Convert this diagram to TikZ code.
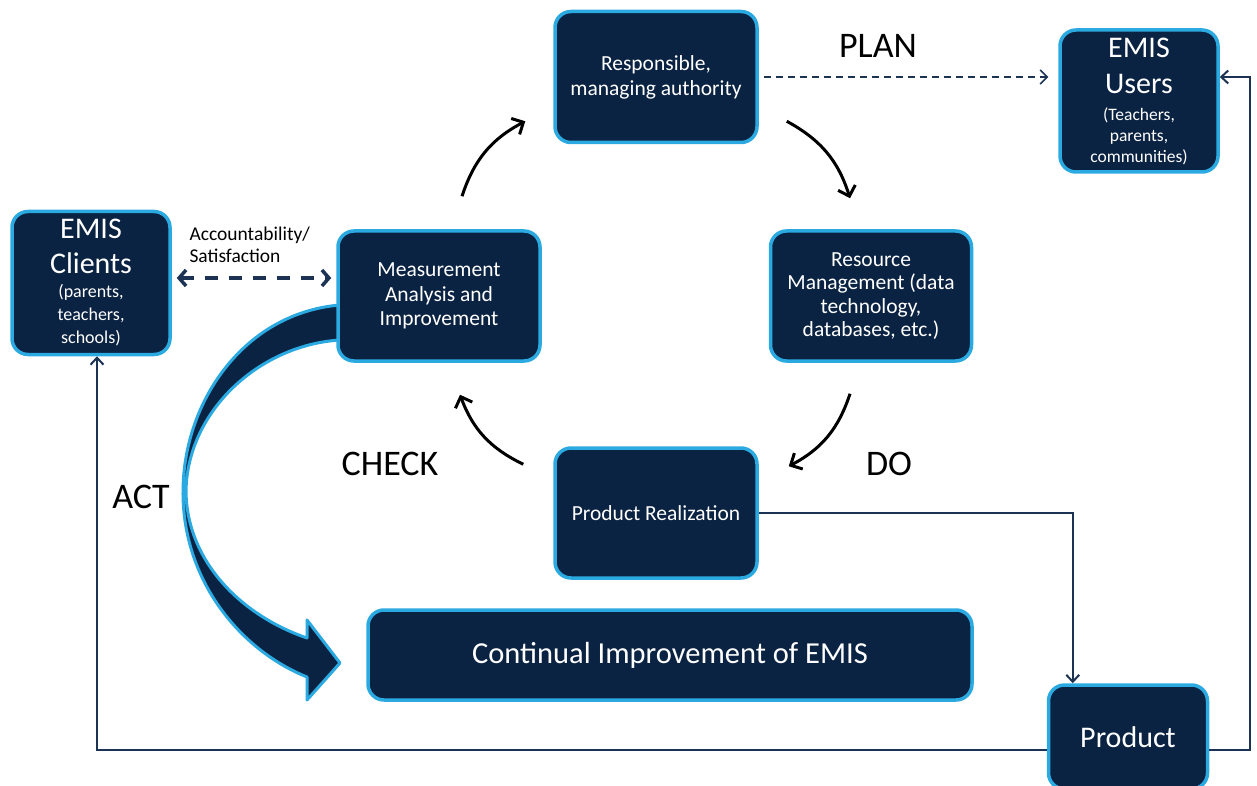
\documentclass[tikz,border=0pt]{standalone}
\usepackage{fontspec}
\setmainfont{Carlito}
\usetikzlibrary{arrows.meta}
\definecolor{boxnavy}{HTML}{0B2343}
\definecolor{boxblue}{HTML}{2BA9E1}
\definecolor{linenavy}{HTML}{1C3354}

\begin{document}
\begin{tikzpicture}[x=1pt,y=-1pt,
      box/.style={draw=boxblue, fill=boxnavy, line width=3.5pt, rounded corners=16pt, text=white, align=center, inner sep=2pt},
      boxtext/.style={font=\fontsize{21.5}{24}\selectfont},
      cyclearrow/.style={line width=3pt, -{Straight Barb[length=9pt,width=18pt]}, bend left=22},
      conn/.style={draw=linenavy, line width=2pt, -{Straight Barb[length=7pt,width=13pt]}},
      phase/.style={font=\fontsize{36}{40}\selectfont}
    ]
    \useasboundingbox (0,0) rectangle (1257,786);

    % the big ACT arrow, under the box it starts from
    \draw[draw=boxblue, fill=boxnavy, line width=3pt, line join=round]
      (340,305) .. controls (245,313) and (184,400) .. (183,490)
      .. controls (182,580) and (240,650) .. (307,677)
      -- (307,700) -- (340,663) -- (307,620) -- (307,638)
      .. controls (240,615) and (186,560) .. (186,490)
      .. controls (188,410) and (260,345) .. (340,340) -- cycle;

    \node[box, font=\fontsize{21.5}{25}\selectfont, minimum width=202, minimum height=131] (rp) at (656,77) {Responsible,\\managing authority};
    \node[box, font=\fontsize{17.5}{21}\selectfont, minimum width=158, minimum height=142] (us) at (1139,101)
      {{\fontsize{30}{30}\selectfont EMIS}\\[15pt]{\fontsize{30}{30}\selectfont Users}\\[6pt](Teachers,\\parents,\\communities)};
    \node[box, font=\fontsize{18}{23}\selectfont, minimum width=158, minimum height=143] (cl) at (91,283)
      {{\fontsize{30}{30}\selectfont EMIS}\\[12pt]{\fontsize{30}{30}\selectfont Clients}\\[1pt](parents,\\teachers,\\schools)};
    \node[box, boxtext, font=\fontsize{21.5}{24.5}\selectfont, minimum width=202, minimum height=130] (ma) at (439,296) {Measurement\\Analysis and\\Improvement};
    \node[box, boxtext, font=\fontsize{21.5}{23.3}\selectfont, minimum width=201, minimum height=130] (rm) at (871,296) {Resource\\Management (data\\technology,\\databases, etc.)};
    \node[box, boxtext, minimum width=202, minimum height=130] (pr) at (656,513) {Product Realization};
    \node[box, minimum width=604, minimum height=90, font=\fontsize{30.5}{34}\selectfont] (ci) at (670,655) {Continual Improvement of EMIS};
    \node[box, minimum width=159, minimum height=104, font=\fontsize{30}{32}\selectfont] (pd) at (1128,737) {Product};

    % PDCA labels
    \node[phase] (plan) at (878,46) {PLAN};
    \node[phase] (do) at (889,464) {DO};
    \node[phase] (check) at (390,464) {CHECK};
    \node[phase] (act) at (141,497) {ACT};
    \node[anchor=west, align=left, font=\fontsize{19.5}{22}\selectfont] (acc) at (186,245) {Accountability/\\Satisfaction};

    % the cycle
    \draw[cyclearrow] ([xshift=23pt,yshift=33pt]ma.north) to ([xshift=-28pt,yshift=23pt]rp.south west);
    \draw[cyclearrow] ([xshift=28pt,yshift=23pt]rp.south east) to ([xshift=-21pt,yshift=31pt]rm.north);
    \draw[cyclearrow] ([xshift=-21pt,yshift=-31pt]rm.south) to ([xshift=30pt,yshift=-20pt]pr.north east);
    \draw[cyclearrow] ([xshift=-30pt,yshift=-18pt]pr.north west) to ([xshift=21pt,yshift=-32pt]ma.south);

    % dashed links
    \draw[linenavy, line width=1.6pt, dash pattern=on 7pt off 5pt, -{Straight Barb[length=7pt,width=14pt]}]
      ([xshift=5pt]rp.east) -- ([xshift=-10pt,yshift=24pt]us.west);
    \draw[linenavy, line width=3.5pt, dash pattern=on 13pt off 11pt, {Straight Barb[length=7pt,width=16pt]}-{Straight Barb[length=7pt,width=16pt]}]
      ([xshift=5pt,yshift=5pt]cl.east) -- ([xshift=-5pt,yshift=18pt]ma.west);

    % product flow
    \draw[conn] (pr.east) -| ([xshift=26pt]pd.north west);
    \draw[conn] ([yshift=-13pt]pd.west) -| ([xshift=6pt]cl.south);
    \draw[conn] ([yshift=-13pt]pd.east) -| (1250,500) |- ([yshift=24pt]us.east);
  \end{tikzpicture}
\end{document}
